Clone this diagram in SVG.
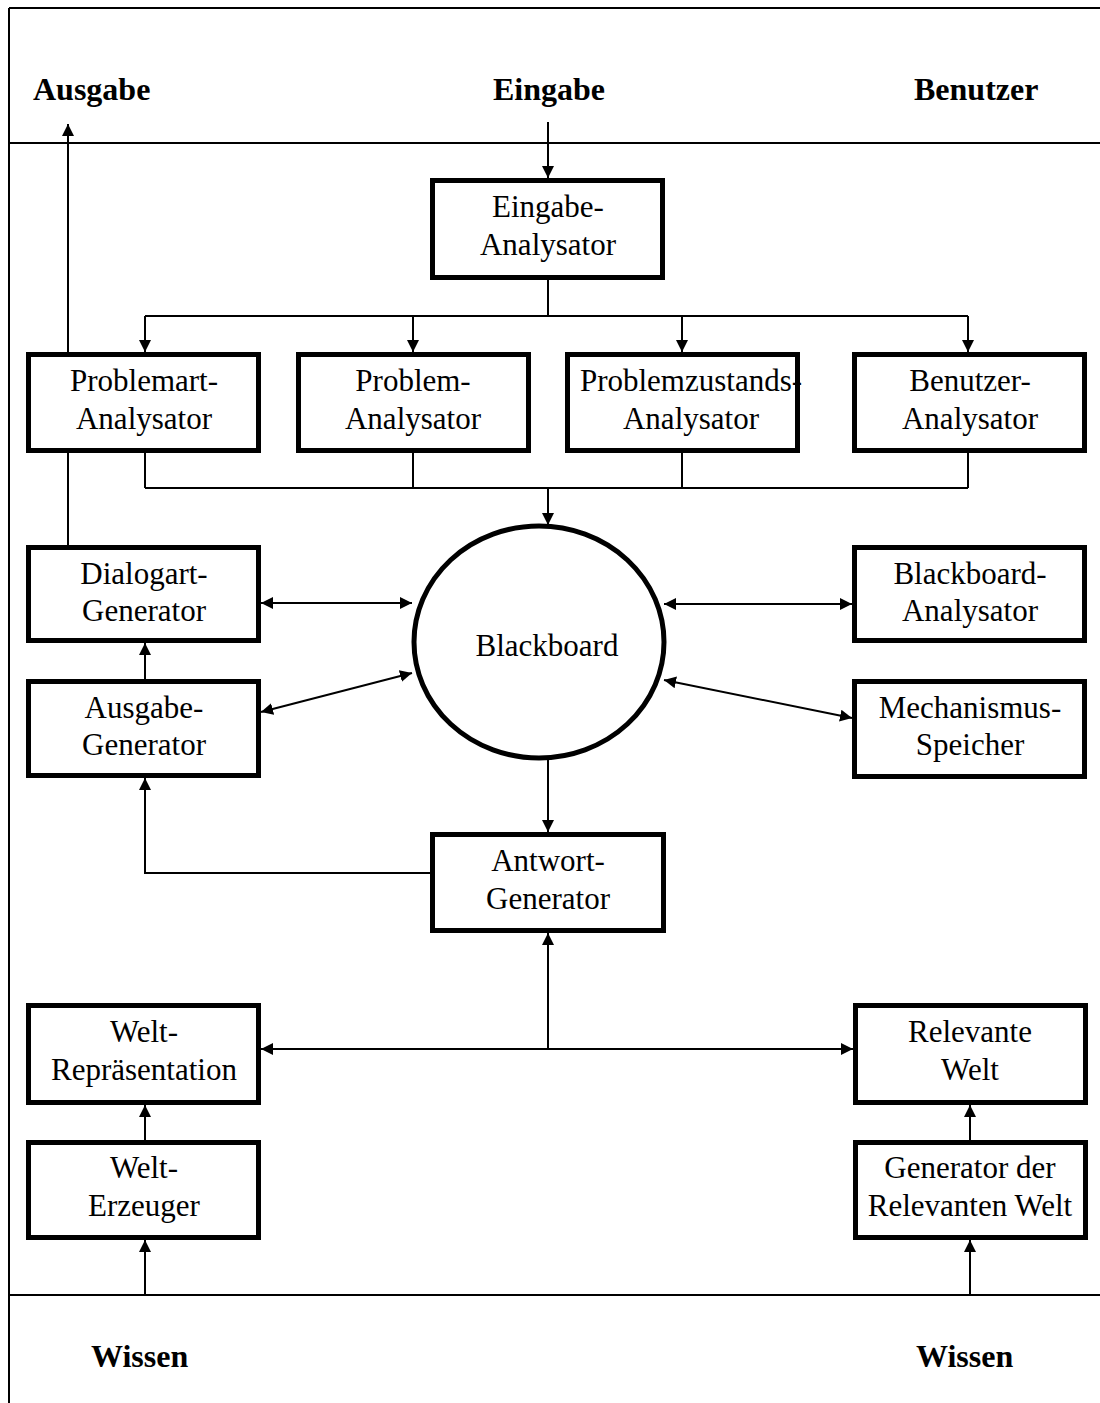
<svg xmlns="http://www.w3.org/2000/svg" width="1100" height="1403" viewBox="0 0 1100 1403">
<defs>
<marker id="ah" viewBox="0 0 12 12" markerWidth="12" markerHeight="12" refX="12" refY="6" orient="auto-start-reverse" markerUnits="userSpaceOnUse">
<path d="M0,0 L12,6 L0,12 z" fill="#000"/>
</marker>
<style>
.box{fill:#fff;stroke:#000;stroke-width:5}
.t{font-family:"Liberation Serif","Times New Roman",serif;font-size:31px;text-anchor:middle;fill:#000}
.lbl{font-family:"Liberation Serif","Times New Roman",serif;font-size:32px;font-weight:bold;fill:#000}
.frame{stroke:#000;stroke-width:2;fill:none}
.c{stroke:#000;stroke-width:2;fill:none}
.a{marker-end:url(#ah)}
.d{marker-start:url(#ah);marker-end:url(#ah)}
</style>
</defs>
<g id="frame">
<path class="frame" d="M9,8 V1403 M9,8 H1100 M9,143 H1100 M9,1295 H1100"/>
<text class="lbl" x="33" y="100">Ausgabe</text>
<text class="lbl" x="549" y="100" text-anchor="middle">Eingabe</text>
<text class="lbl" x="914" y="100">Benutzer</text>
<text class="lbl" x="91" y="1367">Wissen</text>
<text class="lbl" x="916" y="1367">Wissen</text>
</g>
<g id="connectors">
<path class="c a" d="M548,122 V178"/>
<path class="c" d="M548,280 V316 M145,316 H968"/>
<path class="c a" d="M145,316 V352"/>
<path class="c a" d="M413,316 V352"/>
<path class="c a" d="M682,316 V352"/>
<path class="c a" d="M968,316 V352"/>
<path class="c" d="M145,453 V488 M413,453 V488 M682,453 V488 M968,453 V488 M145,488 H968"/>
<path class="c a" d="M548,488 V525"/>
<path class="c a" d="M68,352 V124"/>
<path class="c" d="M68,545 V453"/>
<path class="c d" d="M261,603 H412"/>
<path class="c d" d="M261,712 L412,673"/>
<path class="c d" d="M664,604 H852"/>
<path class="c d" d="M664,680 L852,718"/>
<path class="c a" d="M145,679 V643"/>
<path class="c a" d="M548,760 V832"/>
<path class="c a" d="M430,873 H145 V778"/>
<path class="c d" d="M261,1049 H853"/>
<path class="c a" d="M548,1049 V933"/>
<path class="c a" d="M145,1140 V1105"/>
<path class="c a" d="M145,1295 V1240"/>
<path class="c a" d="M970,1140 V1105"/>
<path class="c a" d="M970,1295 V1240"/>
</g>
<g id="eingabe-analysator">
<rect class="box" x="432.5" y="180.5" width="230" height="97"/>
<text class="t" x="548" y="217">Eingabe-</text>
<text class="t" x="548" y="255">Analysator</text>
</g>
<g id="problemart-analysator">
<rect class="box" x="28.5" y="354.5" width="230" height="96"/>
<text class="t" x="144" y="391">Problemart-</text>
<text class="t" x="144" y="429">Analysator</text>
</g>
<g id="problem-analysator">
<rect class="box" x="298.5" y="354.5" width="230" height="96"/>
<text class="t" x="413" y="391">Problem-</text>
<text class="t" x="413" y="429">Analysator</text>
</g>
<g id="problemzustands-analysator">
<rect class="box" x="567.5" y="354.5" width="230" height="96"/>
<text class="t" x="691" y="391">Problemzustands-</text>
<text class="t" x="691" y="429">Analysator</text>
</g>
<g id="benutzer-analysator">
<rect class="box" x="854.5" y="354.5" width="230" height="96"/>
<text class="t" x="970" y="391">Benutzer-</text>
<text class="t" x="970" y="429">Analysator</text>
</g>
<g id="blackboard">
<ellipse cx="539" cy="642" rx="125" ry="116" fill="#fff" stroke="#000" stroke-width="5"/>
<text class="t" x="547" y="656">Blackboard</text>
</g>
<g id="dialogart-generator">
<rect class="box" x="28.5" y="547.5" width="230" height="93"/>
<text class="t" x="144" y="584">Dialogart-</text>
<text class="t" x="144" y="621">Generator</text>
</g>
<g id="blackboard-analysator">
<rect class="box" x="854.5" y="547.5" width="230" height="93"/>
<text class="t" x="970" y="584">Blackboard-</text>
<text class="t" x="970" y="621">Analysator</text>
</g>
<g id="ausgabe-generator">
<rect class="box" x="28.5" y="681.5" width="230" height="94"/>
<text class="t" x="144" y="718">Ausgabe-</text>
<text class="t" x="144" y="755">Generator</text>
</g>
<g id="mechanismus-speicher">
<rect class="box" x="854.5" y="681.5" width="230" height="95"/>
<text class="t" x="970" y="718">Mechanismus-</text>
<text class="t" x="970" y="755">Speicher</text>
</g>
<g id="antwort-generator">
<rect class="box" x="432.5" y="834.5" width="231" height="96"/>
<text class="t" x="548" y="871">Antwort-</text>
<text class="t" x="548" y="909">Generator</text>
</g>
<g id="welt-repraesentation">
<rect class="box" x="28.5" y="1005.5" width="230" height="97"/>
<text class="t" x="144" y="1042">Welt-</text>
<text class="t" x="144" y="1080">Repräsentation</text>
</g>
<g id="relevante-welt">
<rect class="box" x="855.5" y="1005.5" width="230" height="97"/>
<text class="t" x="970" y="1042">Relevante</text>
<text class="t" x="970" y="1080">Welt</text>
</g>
<g id="welt-erzeuger">
<rect class="box" x="28.5" y="1142.5" width="230" height="95"/>
<text class="t" x="144" y="1178">Welt-</text>
<text class="t" x="144" y="1216">Erzeuger</text>
</g>
<g id="generator-relevante-welt">
<rect class="box" x="855.5" y="1142.5" width="230" height="95"/>
<text class="t" x="970" y="1178">Generator der</text>
<text class="t" x="970" y="1216">Relevanten Welt</text>
</g>
</svg>
